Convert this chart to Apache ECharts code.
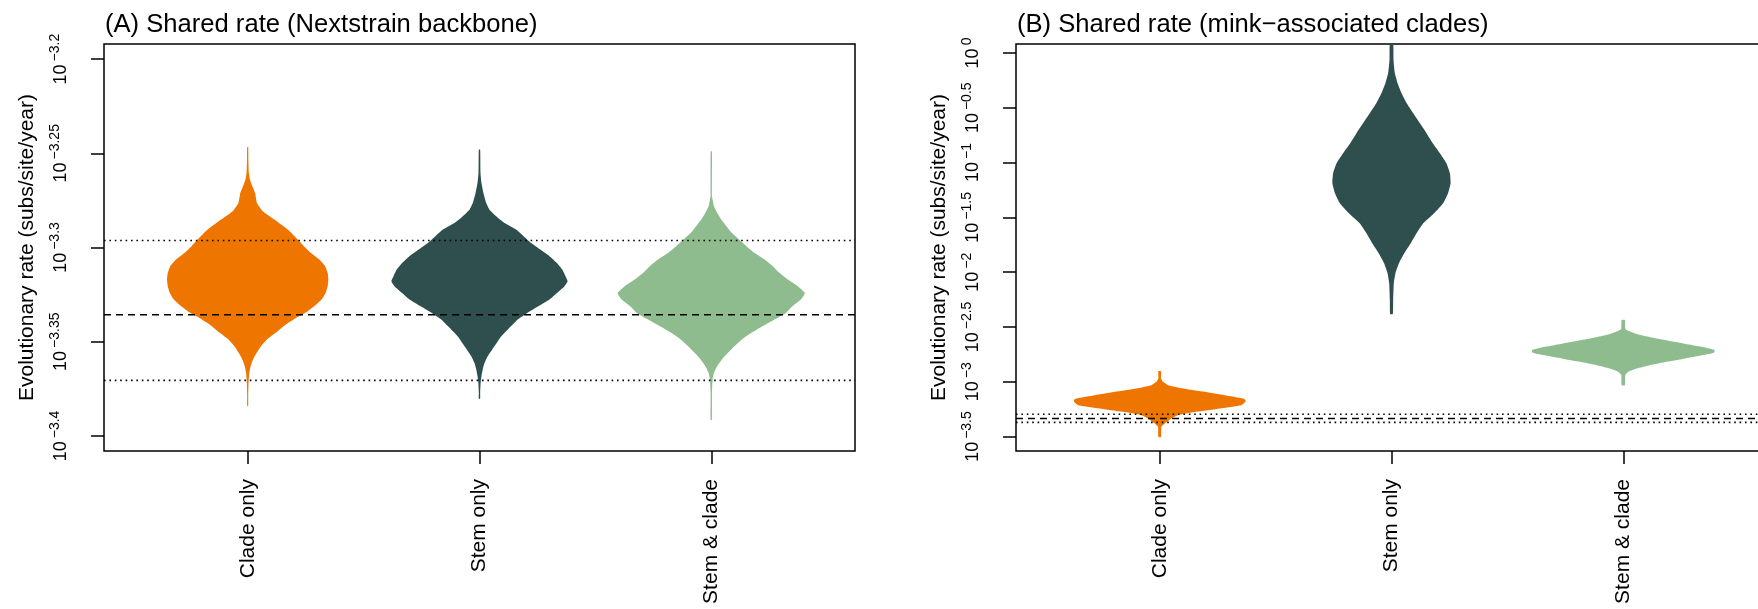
<!DOCTYPE html>
<html><head><meta charset="utf-8">
<script src="https://cdn.jsdelivr.net/npm/echarts@6/dist/echarts.min.js"></script>
<style>html,body{margin:0;padding:0;background:#fff}#c{width:1758px;height:609px}</style>
</head><body><div id="c"></div>
<script>
// ---------- data ----------
const categories = ['Clade only', 'Stem only', 'Stem & clade'];
const categoryPositions = [1, 2, 3];
const violinColors = ['#EE7600', '#2F4F4F', '#8FBC8F'];
const panelTitles = ['(A) Shared rate (Nextstrain backbone)', '(B) Shared rate (mink\u2212associated clades)'];
const yAxisTitle = 'Evolutionary rate (subs/site/year)';

// y tick positions (log10 of rate) and their exponent labels
const aTickValues = [-3.4, -3.35, -3.3, -3.25, -3.2];
const aTickExponents = ['\u22123.4', '\u22123.35', '\u22123.3', '\u22123.25', '\u22123.2'];
const bTickValues = [-3.5, -3, -2.5, -2, -1.5, -1, -0.5, 0];
const bTickExponents = ['\u22123.5', '\u22123', '\u22122.5', '\u22122', '\u22121.5', '\u22121', '\u22120.5', '0'];

// reference lines (log10 rate): dotted, dashed, dotted
const refLineValues = [-3.2963, -3.3357, -3.3705];

// violin profiles: log10 rate and half width (in category units)
const aCladeRate = [-3.2467,-3.2534,-3.2604,-3.2640,-3.2675,-3.2711,-3.2764,-3.2808,-3.2852,-3.2905,-3.2958,-3.2993,-3.3029,-3.3064,-3.3099,-3.3135,-3.3170,-3.3205,-3.3241,-3.3276,-3.3311,-3.3338,-3.3364,-3.3400,-3.3444,-3.3488,-3.3523,-3.3559,-3.3594,-3.3629,-3.3665,-3.3718,-3.3788,-3.3841];
const aCladeWidth = [0.0022,0.0029,0.005,0.010,0.020,0.032,0.040,0.065,0.115,0.173,0.216,0.242,0.273,0.309,0.334,0.345,0.348,0.345,0.336,0.319,0.288,0.259,0.223,0.175,0.129,0.083,0.058,0.039,0.023,0.013,0.007,0.0036,0.0022,0.0022];

const aStemRate = [-3.2481,-3.2604,-3.2658,-3.2711,-3.2764,-3.2799,-3.2834,-3.2870,-3.2905,-3.2940,-3.2976,-3.3011,-3.3046,-3.3082,-3.3117,-3.3152,-3.3179,-3.3205,-3.3241,-3.3276,-3.3311,-3.3347,-3.3382,-3.3417,-3.3453,-3.3479,-3.3506,-3.3541,-3.3576,-3.3612,-3.3647,-3.3682,-3.3718,-3.3771,-3.3803];
const aStemWidth = [0.0029,0.0043,0.0086,0.017,0.029,0.043,0.072,0.108,0.158,0.190,0.223,0.262,0.302,0.334,0.357,0.371,0.380,0.367,0.334,0.302,0.256,0.206,0.165,0.137,0.108,0.089,0.075,0.055,0.036,0.022,0.014,0.0086,0.005,0.0029,0.0029];

const aBothRate = [-3.2490,-3.2728,-3.2746,-3.2781,-3.2817,-3.2852,-3.2887,-3.2923,-3.2958,-3.2993,-3.3029,-3.3064,-3.3099,-3.3135,-3.3170,-3.3205,-3.3241,-3.3276,-3.3311,-3.3347,-3.3382,-3.3417,-3.3453,-3.3488,-3.3523,-3.3559,-3.3594,-3.3629,-3.3665,-3.3700,-3.3771,-3.3916];
const aBothWidth = [0.0029,0.0029,0.0058,0.0115,0.026,0.043,0.065,0.089,0.120,0.151,0.187,0.230,0.265,0.295,0.330,0.373,0.404,0.387,0.351,0.322,0.273,0.223,0.173,0.132,0.101,0.072,0.046,0.026,0.0115,0.0058,0.0029,0.0029];

const bCladeRate = [-2.9032,-2.9702,-3.0007,-3.0312,-3.0616,-3.0921,-3.1225,-3.153,-3.1682,-3.1895,-3.2139,-3.2444,-3.2748,-3.3053,-3.3358,-3.3815,-3.4119,-3.5033];
const bCladeWidth = [0.0058,0.0058,0.0144,0.036,0.101,0.194,0.280,0.360,0.371,0.367,0.352,0.259,0.158,0.079,0.050,0.022,0.0072,0.0058];

const bStemRate = [0.085,-0.0612,-0.183,-0.2745,-0.366,-0.457,-0.5486,-0.640,-0.7313,-0.8227,-0.914,-1.0055,-1.0969,-1.1882,-1.2796,-1.371,-1.4624,-1.5538,-1.6452,-1.7365,-1.8279,-1.9193,-2.0107,-2.102,-2.2543,-2.3823];
const bStemWidth = [0.0072,0.0086,0.0144,0.026,0.043,0.065,0.093,0.122,0.151,0.178,0.209,0.237,0.252,0.255,0.244,0.223,0.184,0.137,0.108,0.083,0.055,0.032,0.017,0.010,0.0072,0.0058];

const bBothRate = [-2.4372,-2.5133,-2.5286,-2.559,-2.5895,-2.62,-2.6504,-2.6809,-2.7113,-2.7357,-2.757,-2.7874,-2.8179,-2.8484,-2.8788,-2.9093,-2.9398,-3.0312];
const bBothWidth = [0.0072,0.0086,0.0144,0.050,0.108,0.180,0.259,0.338,0.394,0.391,0.345,0.266,0.187,0.115,0.058,0.022,0.0086,0.0072];

// axis ranges
const xRange = [0.38, 3.62];
const aYRange = [-3.408, -3.192];
const bYRange = [-3.632, 0.082];

// ---------- chart ----------
const FONT = 'Liberation Sans';
const chart = echarts.init(document.getElementById('c'), null, {renderer: 'canvas'});

function violin(panel, cat, rates, widths) {
  const c = categoryPositions[cat];
  return {
    type: 'custom', xAxisIndex: panel, yAxisIndex: panel, clip: true, z: 2, silent: true,
    data: [[c, rates[0]]],
    renderItem: function (params, api) {
      const right = rates.map((r, i) => api.coord([c + widths[i], r]));
      const left = rates.map((r, i) => api.coord([c - widths[i], r])).reverse();
      return {type: 'polygon', shape: {points: right.concat(left), smooth: 0.15},
              style: {fill: violinColors[cat], stroke: null}};
    }
  };
}
function refLine(panel, v, dashed) {
  return {
    type: 'line', xAxisIndex: panel, yAxisIndex: panel, symbol: 'none', silent: true, z: 5,
    data: [[xRange[0], v], [xRange[1], v]],
    lineStyle: {color: '#000', width: dashed ? 1.4 : 1.6, type: dashed ? [7, 5] : [1.6, 3.8]}
  };
}
function yAxis(panel, range, tickVals, tickExps) {
  return {
    type: 'value', gridIndex: panel, min: range[0], max: range[1], position: 'left',
    name: yAxisTitle, nameLocation: 'middle', nameRotate: 90, nameGap: 66,
    nameTextStyle: {fontSize: 21, fontFamily: FONT, color: '#000'},
    axisLine: {show: false, onZero: false}, splitLine: {show: false},
    axisTick: {show: true, customValues: tickVals, length: 13, inside: false, lineStyle: {color: '#000', width: 1.5}},
    axisLabel: {
      customValues: tickVals, rotate: 90, margin: 34, color: '#000',
      formatter: function (v) {
        let k = 0, best = 1e9;
        tickVals.forEach((t, i) => { if (Math.abs(t - v) < best) { best = Math.abs(t - v); k = i; } });
        return '{b|10}{s|' + tickExps[k] + '}';
      },
      rich: {
        b: {fontSize: 18, fontFamily: FONT, color: '#000', lineHeight: 22, verticalAlign: 'bottom'},
        s: {fontSize: 14, fontFamily: FONT, color: '#000', lineHeight: 13, verticalAlign: 'top', padding: [0, 0, 0, 3]}
      }
    }
  };
}
function xAxis(panel) {
  return {
    type: 'value', gridIndex: panel, min: xRange[0], max: xRange[1], position: 'bottom',
    axisLine: {show: false, onZero: false}, splitLine: {show: false},
    axisTick: {show: true, customValues: categoryPositions, length: 13, inside: false, lineStyle: {color: '#000', width: 1.5}},
    axisLabel: {
      customValues: categoryPositions, rotate: 90, margin: 28, color: '#000', fontSize: 21, fontFamily: FONT,
      formatter: function (v) { return categories[categoryPositions.indexOf(Math.round(v))]; }
    }
  };
}

const option = {
  animation: false,
  backgroundColor: '#fff',
  textStyle: {fontFamily: FONT},
  title: [
    {text: panelTitles[0], left: 105, top: 12, padding: 0, textStyle: {fontSize: 25.6, fontWeight: 'normal', fontFamily: FONT, color: '#000'}},
    {text: panelTitles[1], left: 1017, top: 12, padding: 0, textStyle: {fontSize: 25.6, fontWeight: 'normal', fontFamily: FONT, color: '#000'}}
  ],
  grid: [
    {left: 104, top: 44, width: 751, height: 407, show: true, borderColor: '#000', borderWidth: 1.5, backgroundColor: 'transparent', containLabel: false, outerBoundsMode: 'none'},
    {left: 1016, top: 44, width: 751, height: 407, show: true, borderColor: '#000', borderWidth: 1.5, backgroundColor: 'transparent', containLabel: false, outerBoundsMode: 'none'}
  ],
  xAxis: [xAxis(0), xAxis(1)],
  yAxis: [yAxis(0, aYRange, aTickValues, aTickExponents), yAxis(1, bYRange, bTickValues, bTickExponents)],
  series: [
    violin(0, 0, aCladeRate, aCladeWidth),
    violin(0, 1, aStemRate, aStemWidth),
    violin(0, 2, aBothRate, aBothWidth),
    violin(1, 0, bCladeRate, bCladeWidth),
    violin(1, 1, bStemRate, bStemWidth),
    violin(1, 2, bBothRate, bBothWidth),
    refLine(0, refLineValues[0], false), refLine(0, refLineValues[1], true), refLine(0, refLineValues[2], false),
    refLine(1, refLineValues[0], false), refLine(1, refLineValues[1], true), refLine(1, refLineValues[2], false)
  ]
};
chart.setOption(option);
</script>
</body></html>
